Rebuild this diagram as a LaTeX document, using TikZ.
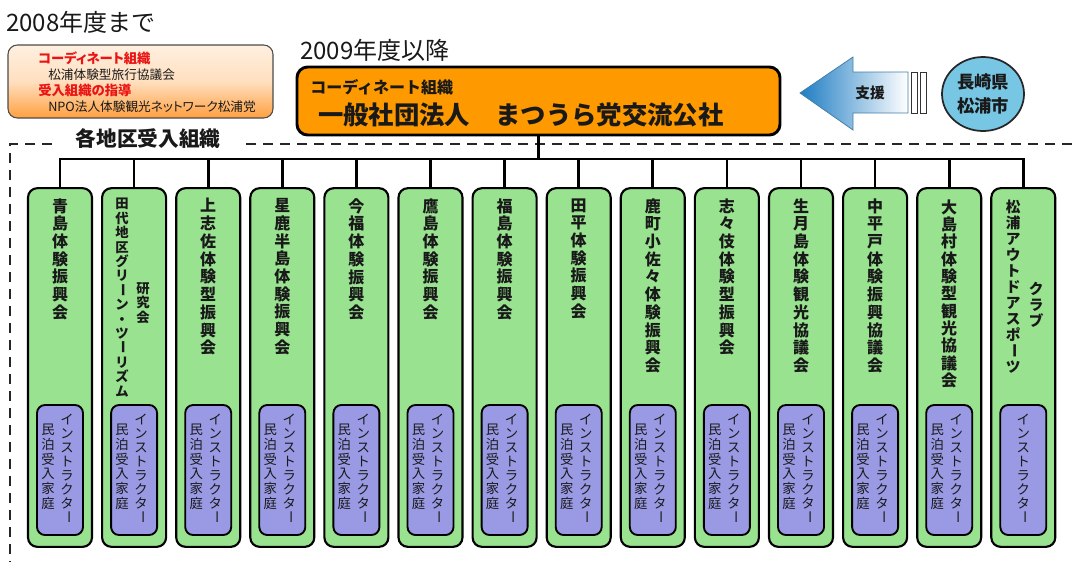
\documentclass[tikz,border=0pt]{standalone}
\usepackage{fontspec}
\setmainfont{Noto Sans CJK JP}
\newfontfamily\pf{Noto Sans CJK JP}[RawFeature=+palt]
\usepackage{graphicx}
\usetikzlibrary{calc,shapes.geometric}
\definecolor{gfill}{RGB}{152,226,144}
\definecolor{pfill}{RGB}{153,153,228}
\definecolor{ofill}{RGB}{255,153,0}
\definecolor{cfill}{RGB}{118,198,228}
\definecolor{ablue}{RGB}{30,125,195}
\definecolor{redt}{RGB}{235,20,20}
\definecolor{txtc}{RGB}{25,25,25}
\makeatletter
\newcommand\vstk[2]{\vbox{\baselineskip=#1\lineskiplimit=-100pt\lineskip=0pt\@tfor\vc:=#2\do{\hbox to 1em{\hss\vc\hss}}}}
\makeatother
\newcommand\cho{\raisebox{0.17em}{\rotatebox[origin=c]{-90}{ー}}}
\tikzset{
  gbox/.style={draw=black, line width=1.6pt, fill=gfill, rounded corners=7pt, minimum width=48pt, minimum height=269pt, inner sep=0pt},
  pbox/.style={draw=black, line width=1.4pt, fill=pfill, rounded corners=6pt, minimum width=34.5pt, minimum height=97.5pt, inner sep=0pt},
  gtxt/.style={inner sep=0pt, anchor=north, text=txtc, font=\bfseries\fontsize{12}{14}\selectfont},
  gsmall/.style={inner sep=0pt, anchor=north, text=txtc, font=\bfseries\fontsize{10}{12}\selectfont},
  gmid/.style={inner sep=0pt, anchor=north, text=txtc, font=\bfseries\fontsize{11}{13}\selectfont},
  ptxt/.style={inner sep=0pt, anchor=north, text=txtc, font=\fontsize{10}{12}\selectfont},
  conn/.style={line width=2pt, draw=black},
  dashln/.style={line width=1.5pt, draw=black!85, dash pattern=on 7.5pt off 5.25pt},
  lbl/.style={inner sep=0pt, anchor=west, text=txtc},
}
\begin{document}
\begin{tikzpicture}[x=0.75pt, y=-0.75pt]
\useasboundingbox (0,0) rectangle (1072,562);
% dashed frame of the receiving organisations
\draw[dashln] (1072,144) -- (10,144) -- (10,562);
\node[fill=white, inner xsep=14pt, inner ysep=2pt, text=txtc, font=\bfseries\fontsize{15.5}{18}\selectfont] (area) at (148,139) {各地区受入組織};

% titles
\node[lbl, font=\fontsize{18}{20}\selectfont] (t2008) at (6,22) {2008年度まで};
\node[lbl, font=\fontsize{18}{20}\selectfont] (t2009) at (300,50) {2009年度以降};

% old box
\node[draw=black!70, line width=0.8pt, rounded corners=7pt, top color=orange!12, bottom color=orange!75, middle color=orange!25, minimum width=198.75pt, minimum height=54.75pt] (ob) at (140.5,81.5) {};
\node[lbl, text=redt, font=\pf\bfseries\fontsize{10}{12}\selectfont] (ob1) at (38,58) {コーディネート組織};
\node[lbl, font=\pf\fontsize{9.5}{11}\selectfont] (ob2) at (48,75) {松浦体験型旅行協議会};
\node[lbl, text=redt, font=\pf\bfseries\fontsize{10}{12}\selectfont] (ob3) at (38,90) {受入組織の指導};
\node[lbl, font=\pf\fontsize{9.5}{11}\selectfont] (ob4) at (48,107) {NPO法人体験観光ネットワーク松浦党};

% new box
\node[draw=black, line width=2.2pt, rounded corners=8pt, fill=ofill, minimum width=362.25pt, minimum height=51pt] (nb) at (538.5,101) {};
\node[lbl, font=\bfseries\fontsize{12}{14}\selectfont] (nb1) at (310,87) {コーディネート組織};
\node[lbl, font=\bfseries\fontsize{19}{22}\selectfont] (nb2) at (318,115) {一般社団法人　まつうら党交流公社};

% support arrow
\shadedraw[draw=ablue!60!gray, line width=0.6pt, left color=ablue, right color=white]
  (800,93) -- (853,57) -- (853,72) -- (908,72) -- (908,113) -- (853,113) -- (853,130) -- cycle;
\node[text=txtc, font=\bfseries\fontsize{11}{13}\selectfont, inner sep=0pt] (sup) at (870,93) {支援};
\node[draw=black!80, line width=0.6pt, fill=white, minimum width=4.5pt, minimum height=30.75pt, inner sep=0pt] (bar1) at (914,92.5) {};
\node[draw=black!80, line width=0.6pt, fill=white, minimum width=4pt, minimum height=30.75pt, inner sep=0pt] (bar2) at (923.5,92.5) {};
\node[ellipse, draw=black!85, line width=1.3pt, fill=cfill, minimum width=61.5pt, minimum height=55.5pt, inner sep=0pt] (city) at (983,94) {};
\node[align=center, text=txtc, font=\bfseries\fontsize{13}{18}\selectfont, inner sep=0pt] (cityt) at (983,94) {長崎県\\松浦市};

% green boxes and purple boxes
\foreach \i in {1,...,14} {
  \pgfmathsetmacro\cx{60+74.1*(\i-1)}
  \node[gbox] (g\i) at (\cx,367.5) {};
  \node[pbox] (p\i) at (\cx,470) {};
}

% connectors
\coordinate (bus) at (538.5,159);
\draw[conn] (nb.south) -- (nb.south |- bus);
\draw[conn] (g1.north) |- (bus) -| (g14.north);
\foreach \i in {2,...,13} {
  \draw[conn] (g\i.north |- bus) -- (g\i.north);
}

% texts of the green boxes
\node[gtxt] (n1) at ($(g1.north)+(0,11)$) {\vstk{13.3pt}{青島体験振興会}};
\node[gsmall] (n2) at ($(g2.north)+(-12,11)$) {\vstk{10.8pt}{田代地区グリ\cho ン・ツ\cho リズム}};
\node[gsmall] (n2b) at ($(g2.north)+(9,95)$) {\vstk{10.8pt}{研究会}};
\node[gtxt] (n3) at ($(g3.north)+(0,11)$) {\vstk{13.3pt}{上志佐体験型振興会}};
\node[gtxt] (n4) at ($(g4.north)+(0,11)$) {\vstk{13.3pt}{星鹿半島体験振興会}};
\node[gtxt] (n5) at ($(g5.north)+(0,11)$) {\vstk{13.3pt}{今福体験振興会}};
\node[gtxt] (n6) at ($(g6.north)+(0,11)$) {\vstk{13.3pt}{鷹島体験振興会}};
\node[gtxt] (n7) at ($(g7.north)+(0,11)$) {\vstk{13.3pt}{福島体験振興会}};
\node[gtxt] (n8) at ($(g8.north)+(0,11)$) {\vstk{13.3pt}{田平体験振興会}};
\node[gtxt] (n9) at ($(g9.north)+(0,11)$) {\vstk{13.3pt}{鹿町小佐々体験振興会}};
\node[gtxt] (n10) at ($(g10.north)+(0,11)$) {\vstk{13.3pt}{志々伎体験型振興会}};
\node[gtxt] (n11) at ($(g11.north)+(0,11)$) {\vstk{13.3pt}{生月島体験観光協議会}};
\node[gtxt] (n12) at ($(g12.north)+(0,11)$) {\vstk{13.3pt}{中平戸体験振興協議会}};
\node[gtxt] (n13) at ($(g13.north)+(0,12)$) {\vstk{13pt}{大島村体験型観光協議会}};
\node[gmid] (n14) at ($(g14.north)+(-10,13)$) {\vstk{12pt}{松浦アウトドアスポ\cho ツ}};
\node[gmid] (n14b) at ($(g14.north)+(13,95)$) {\vstk{12pt}{クラブ}};

% texts of the purple boxes
\foreach \i in {1,...,13} {
  \node[ptxt] (pa\i) at ($(p\i.north)+(7,10)$) {\vstk{10.5pt}{インストラクタ\cho}};
  \node[ptxt] (pb\i) at ($(p\i.north)+(-12,20)$) {\vstk{11pt}{民泊受入家庭}};
}
\node[ptxt] (pa14) at ($(p14.north)+(0,10)$) {\vstk{10.5pt}{インストラクタ\cho}};
\end{tikzpicture}
\end{document}
